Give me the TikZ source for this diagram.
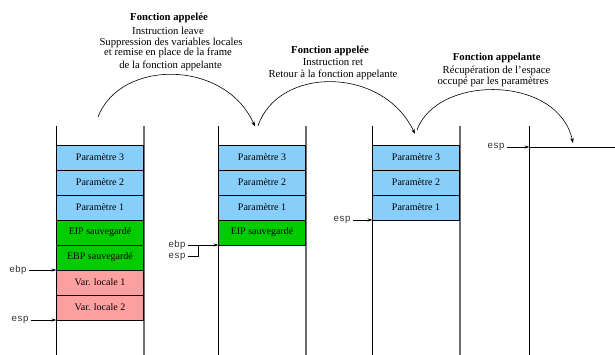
\documentclass[tikz,border=0pt]{standalone}
\usepackage{fontspec}
\setmainfont{Liberation Serif}
\setmonofont{Liberation Mono}
\usetikzlibrary{arrows.meta}
\definecolor{pblue}{RGB}{135,206,250}
\definecolor{pgreen}{RGB}{0,204,0}
\definecolor{pred}{RGB}{255,160,160}
\definecolor{colgray}{RGB}{110,110,110}
\begin{document}
\begin{tikzpicture}[x=1pt,y=-1pt,
  cell/.style={draw=black, line width=0.6pt, minimum width=87pt, minimum height=25pt,
    inner sep=0pt, outer sep=0pt, font=\fontsize{10}{12}\selectfont},
  hdr/.style={inner sep=0pt, font=\fontsize{10.7}{12.4}\selectfont},
  hdrb/.style={hdr, font=\fontsize{10.7}{12.4}\selectfont\bfseries},
  reg/.style={inner sep=2.5pt, font=\fontsize{9.7}{11}\ttfamily, text=black!80},
  arr/.style={-{Stealth[length=5pt,width=3pt]}, line width=0.6pt},
  lcol/.style={line width=0.8pt, black},
  rcol/.style={line width=1.1pt, colgray},
  arc/.style={-{Stealth[length=5pt,width=3.5pt]}, line width=0.6pt}
]
\useasboundingbox (0,0) rectangle (615,355);

% ---------- column 1 ----------
\draw[lcol] (56.5,126) -- (56.5,355);
\draw[rcol] (144,126) -- (144,355);
\node[cell, fill=pblue]  (c1p3) at (100,157.5) {Paramètre 3};
\node[cell, fill=pblue]  (c1p2) at (100,182.5) {Paramètre 2};
\node[cell, fill=pblue]  (c1p1) at (100,207.5) {Paramètre 1};
\node[cell, fill=pgreen] (c1eip) at (100,232.5) {EIP sauvegardé};
\node[cell, fill=pgreen] (c1ebp) at (100,257.5) {EBP sauvegardé};
\node[cell, fill=pred]   (c1v1) at (100,282.5) {Var. locale 1};
\node[cell, fill=pred]   (c1v2) at (100,307.5) {Var. locale 2};
\node[reg] (ebp1) at (18,270) {ebp};
\node[reg] (esp1) at (20,320) {esp};
\draw[arr] (ebp1) -- (c1v1.north west);
\draw[arr] (esp1) -- (c1v2.south west);

% ---------- column 2 ----------
\draw[lcol] (218.5,126) -- (218.5,355);
\draw[rcol] (306,126) -- (306,355);
\node[cell, fill=pblue]  (c2p3) at (262,157.5) {Paramètre 3};
\node[cell, fill=pblue]  (c2p2) at (262,182.5) {Paramètre 2};
\node[cell, fill=pblue]  (c2p1) at (262,207.5) {Paramètre 1};
\node[cell, fill=pgreen] (c2eip) at (262,232.5) {EIP sauvegardé};
\node[reg] (ebp2) at (177,245) {ebp};
\node[reg] (esp2) at (177,256.5) {esp};
\coordinate (j2) at (198.5,245);
\draw[arr] (ebp2) -- (c2eip.south west);
\draw[line width=0.6pt] (esp2.east) -- (esp2.east -| j2) -- (j2);

% ---------- column 3 ----------
\draw[lcol] (372.5,126) -- (372.5,355);
\draw[rcol] (460,126) -- (460,355);
\node[cell, fill=pblue]  (c3p3) at (416,157.5) {Paramètre 3};
\node[cell, fill=pblue]  (c3p2) at (416,182.5) {Paramètre 2};
\node[cell, fill=pblue]  (c3p1) at (416,207.5) {Paramètre 1};
\node[reg] (esp3) at (342,220) {esp};
\draw[arr] (esp3) -- (c3p1.south west);

% ---------- column 4 ----------
\draw[lcol] (529.5,126) -- (529.5,355);
\coordinate (c4top) at (529.5,147);
\coordinate (c4end) at (615,147);
\draw[line width=0.8pt] (c4top) -- (c4end);
\node[reg] (esp4) at (496,147) {esp};
\draw[arr] (esp4) -- (c4top);

% ---------- headers ----------
\node[hdrb] (h1a) at (169,18.3) {Fonction appelée};
\node[hdr]  (h1b) at (168,30.7) {Instruction leave};
\node[hdr]  (h1c) at (171,42.7) {Suppression des variables locales};
\node[hdr]  (h1d) at (168,53.3) {et remise en place de la frame};
\node[hdr]  (h1e) at (170.5,65.7) {de la fonction appelante};

\node[hdrb] (h2a) at (330,51) {Fonction appelée};
\node[hdr]  (h2b) at (333,62.3) {Instruction ret};
\node[hdr]  (h2c) at (333,75.3) {Retour à la fonction appelante};

\node[hdrb] (h3a) at (496.7,57.7) {Fonction appelante};
\node[hdr]  (h3b) at (496.5,71) {Récupération de l’espace};
\node[hdr]  (h3c) at (493,82) {occupé par les paramètres};

% ---------- arcs ----------
\coordinate (a1s) at (98,117);
\coordinate (a1e) at (255,126.5);
\coordinate (a2s) at (258,126);
\coordinate (a2e) at (415,134);
\coordinate (a3s) at (417,130);
\coordinate (a3e) at (573,143);
\draw[arc] (a1s) .. controls (120,59) and (225,59) .. (a1e);
\draw[arc] (a2s) .. controls (278,66) and (383,66) .. (a2e);
\draw[arc] (a3s) .. controls (437,74.5) and (558,74.5) .. (a3e);
\end{tikzpicture}
\end{document}
